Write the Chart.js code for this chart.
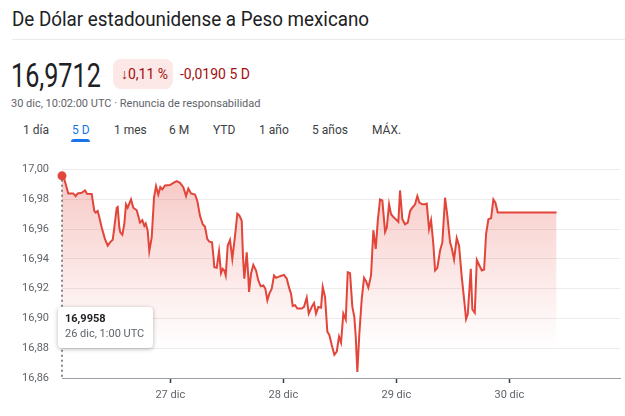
<!DOCTYPE html>
<html>
<head>
<meta charset="utf-8">
<script src="https://cdn.jsdelivr.net/npm/chart.js@4.4.1/dist/chart.umd.min.js"></script>
<style>
body{margin:0;width:625px;height:416px;background:#fff;font-family:Roboto,Arial,sans-serif;position:relative;overflow:hidden;color:#202124}
.abs{position:absolute;line-height:1;white-space:nowrap}
#titulo{left:12px;top:9px;font-size:20px;color:#202124;transform:scaleX(0.94);transform-origin:left top}
#sep{position:absolute;left:12px;right:0;top:39px;height:1px;background:#e8eaed}
#precio{left:11px;top:58px;font-size:34px;color:#202124;transform:scaleX(0.74);transform-origin:left top}
#pill{position:absolute;left:113px;top:59px;width:60px;height:30px;border-radius:8px;background:#fce8e6}
#pct{left:121px;top:67px;font-size:14px;color:#a50e0e}
#cambio{left:180px;top:67px;font-size:14px;color:#a50e0e}
#fecha{left:11px;top:98px;font-size:11px;color:#5f6368}
.tab{position:absolute;top:124px;font-size:12px;line-height:1;color:#3c4043}
#activo{color:#1a73e8}
#subraya{position:absolute;left:71px;top:139px;width:19px;height:3px;border-radius:3px 3px 0 0;background:#1a73e8}
#grafico{position:absolute;left:0;top:150px;width:625px;height:266px}
</style>
</head>
<body>
<div class="abs" id="titulo">De Dólar estadounidense a Peso mexicano</div>
<div id="sep"></div>
<div class="abs" id="precio">16,9712</div>
<div id="pill"></div>
<div class="abs" id="pct">↓0,11 %</div>
<div class="abs" id="cambio">-0,0190 5 D</div>
<div class="abs" id="fecha">30 dic, 10:02:00 UTC · Renuncia de responsabilidad</div>
<span class="tab" style="left:23px">1 día</span>
<span class="tab" id="activo" style="left:72px">5 D</span>
<span class="tab" style="left:114px">1 mes</span>
<span class="tab" style="left:169px">6 M</span>
<span class="tab" style="left:213px">YTD</span>
<span class="tab" style="left:259px">1 año</span>
<span class="tab" style="left:312px">5 años</span>
<span class="tab" style="left:372px">MÁX.</span>
<div id="subraya"></div>
<div id="grafico"><canvas id="chart" width="625" height="266"></canvas></div>

<script>
// horas desde el 26 dic 00:00 UTC
const horas = [1.00,1.42,2.34,3.40,3.91,4.33,5.18,5.89,6.31,7.31,7.86,8.16,8.58,8.86,9.43,10.13,10.71,11.20,11.77,12.11,
  12.62,12.83,13.17,13.38,13.81,14.23,14.59,14.95,15.29,15.66,16.14,16.87,17.57,18.06,18.48,18.78,19.20,19.54,20.05,20.54,
  20.97,21.45,21.88,22.30,22.88,23.94,24.64,25.36,26.06,26.76,27.34,27.83,28.40,29.25,29.74,30.31,30.89,31.37,31.86,32.29,
  32.86,33.14,33.35,33.86,34.35,34.77,35.13,35.47,35.77,36.19,36.68,37.17,37.75,38.23,38.66,39.17,39.44,39.72,40.23,40.57,
  40.72,41.14,41.63,42.21,42.69,43.20,43.76,44.18,44.61,45.03,45.54,46.03,46.46,47.31,48.15,48.73,49.28,49.64,50.00,50.49,
  50.98,51.91,52.40,52.97,53.40,54.04,54.52,54.95,55.44,56.01,56.37,56.86,57.35,57.77,58.28,58.84,59.35,59.83,60.26,60.75,
  61.26,61.68,62.17,62.66,63.08,63.38,63.72,64.15,64.66,65.15,65.57,66.06,66.63,67.12,67.63,68.06,68.54,69.03,69.61,69.97,
  70.46,70.88,71.37,71.88,72.43,72.79,73.28,73.85,74.43,74.92,75.40,75.98,76.46,76.89,77.53,78.10,78.46,78.95,79.38,79.86,
  80.23,80.71,81.29,81.77,82.35,82.84,83.41,83.77,84.26,84.83,85.32,85.90,86.38,86.81,87.17,87.81,88.15,88.66,89.09,89.64,
  90.15,90.64,91.06,91.55,92.12,92.61,93.04,93.54,106.03];

const valores = [16.9958,16.9944,16.9840,16.9840,16.9822,16.9840,16.9844,16.9860,16.9838,16.9836,16.9722,16.9711,16.9722,16.9689,16.9611,16.9533,16.9489,16.9511,16.9529,16.9611,
  16.9744,16.9749,16.9611,16.9578,16.9562,16.9633,16.9767,16.9744,16.9771,16.9800,16.9744,16.9727,16.9644,16.9660,16.9622,16.9638,16.9589,16.9451,16.9544,16.9811,
  16.9889,16.9833,16.9882,16.9867,16.9893,16.9896,16.9911,16.9922,16.9911,16.9882,16.9822,16.9873,16.9840,16.9833,16.9789,16.9689,16.9633,16.9616,16.9533,16.9516,
  16.9511,16.9422,16.9344,16.9340,16.9451,16.9304,16.9333,16.9322,16.9289,16.9489,16.9527,16.9400,16.9556,16.9704,16.9693,16.9656,16.9411,16.9267,16.9444,16.9278,
  16.9178,16.9300,16.9360,16.9322,16.9256,16.9216,16.9222,16.9200,16.9122,16.9167,16.9200,16.9289,16.9273,16.9284,16.9293,16.9267,16.9200,16.9167,16.9084,16.9089,
  16.9067,16.9067,16.9078,16.9140,16.9033,16.9078,16.9104,16.9033,16.9078,16.9073,16.9211,16.9144,16.8911,16.8889,16.8822,16.8756,16.8778,16.8878,16.8838,16.9033,
  16.8993,16.9311,16.9304,16.9078,16.9011,16.8878,16.8640,16.8900,16.9133,16.9273,16.9251,16.9207,16.9289,16.9593,16.9467,16.9656,16.9800,16.9793,16.9582,16.9611,
  16.9767,16.9700,16.9682,16.9667,16.9649,16.9860,16.9667,16.9633,16.9644,16.9722,16.9744,16.9767,16.9822,16.9778,16.9767,16.9767,16.9771,16.9600,16.9660,16.9500,
  16.9322,16.9340,16.9456,16.9511,16.9811,16.9689,16.9511,16.9473,16.9396,16.9540,16.9489,16.9278,16.9133,16.8996,16.9029,16.9333,16.9060,16.9038,16.9393,16.9356,
  16.9322,16.9329,16.9567,16.9667,16.9673,16.9800,16.9778,16.9712,16.9712];

const xTicks = [24, 48, 72, 96];
const xLabels = ['27 dic', '28 dic', '29 dic', '30 dic'];
const yTicks = [16.86, 16.88, 16.90, 16.92, 16.94, 16.96, 16.98, 17.00];

const rojo = '#e2453a';
const gris = '#5f6368';

function coma(v, dec) {
  return v.toFixed(dec).replace('.', ',');
}

// punto inicial, linea punteada y cuadro de informacion
const marcador = {
  id: 'marcador',
  afterDatasetsDraw(chart) {
    const c = chart.ctx;
    const area = chart.chartArea;
    const px = chart.scales.x.getPixelForValue(horas[0]);
    const py = chart.scales.y.getPixelForValue(valores[0]);

    c.save();
    c.strokeStyle = gris;
    c.lineWidth = 1.5;
    c.setLineDash([2, 3]);
    c.beginPath();
    c.moveTo(px, py + 4);
    c.lineTo(px, area.bottom);
    c.stroke();
    c.setLineDash([]);

    c.fillStyle = rojo;
    c.beginPath();
    c.arc(px, py, 4.5, 0, Math.PI * 2);
    c.fill();

    const bx = px - 4, by = area.bottom - 71, bw = 95, bh = 41;
    c.shadowColor = 'rgba(0,0,0,0.3)';
    c.shadowBlur = 4;
    c.shadowOffsetY = 1;
    c.fillStyle = '#fff';
    c.beginPath();
    c.roundRect(bx, by, bw, bh, 4);
    c.fill();
    c.shadowColor = 'transparent';

    c.textBaseline = 'middle';
    c.fillStyle = '#202124';
    c.font = 'bold 11px Roboto';
    c.fillText(coma(valores[0], 4), bx + 7, by + 12);
    c.fillStyle = gris;
    c.font = '11px Roboto';
    c.fillText('26 dic, 1:00 UTC', bx + 7, by + 27);
    c.restore();
  }
};

const ctx = document.getElementById('chart').getContext('2d');

new Chart(ctx, {
  type: 'line',
  data: {
    datasets: [{
      data: horas.map((h, i) => ({ x: h, y: valores[i] })),
      borderColor: rojo,
      borderWidth: 2,
      pointRadius: 0,
      tension: 0,
      fill: 'start',
      backgroundColor: function (context) {
        const area = context.chart.chartArea;
        if (!area) return 'rgba(226,69,58,0.15)';
        const g = context.chart.ctx.createLinearGradient(0, area.top, 0, area.bottom);
        g.addColorStop(0, 'rgba(226,69,58,0.30)');
        g.addColorStop(0.85, 'rgba(226,69,58,0)');
        return g;
      }
    }]
  },
  options: {
    responsive: false,
    animation: false,
    events: [],
    layout: { padding: { top: 18, right: 5, left: 0, bottom: 0 } },
    plugins: {
      legend: { display: false },
      tooltip: { enabled: false }
    },
    scales: {
      x: {
        type: 'linear',
        min: 1,
        max: 119.5,
        afterBuildTicks: s => { s.ticks = xTicks.map(v => ({ value: v })); },
        afterFit: s => { s.height = 38; },
        ticks: {
          callback: (v, i) => xLabels[i],
          color: gris,
          font: { family: 'Roboto', size: 11 },
          padding: 6,
          maxRotation: 0,
          autoSkip: false
        },
        grid: { drawOnChartArea: false, drawTicks: true, tickLength: 5, tickColor: '#3c4043', tickWidth: 1.5 },
        border: { display: true, color: '#9aa0a6', width: 1 }
      },
      y: {
        min: 16.86,
        max: 17.00,
        afterBuildTicks: s => { s.ticks = yTicks.map(v => ({ value: v })); },
        afterFit: s => { s.width = 62; },
        ticks: {
          callback: v => coma(v, 2),
          color: gris,
          font: { family: 'Roboto', size: 11 },
          padding: 13
        },
        grid: { color: '#ececec', drawTicks: false },
        border: { display: false }
      }
    }
  },
  plugins: [marcador]
});
</script>
</body>
</html>
